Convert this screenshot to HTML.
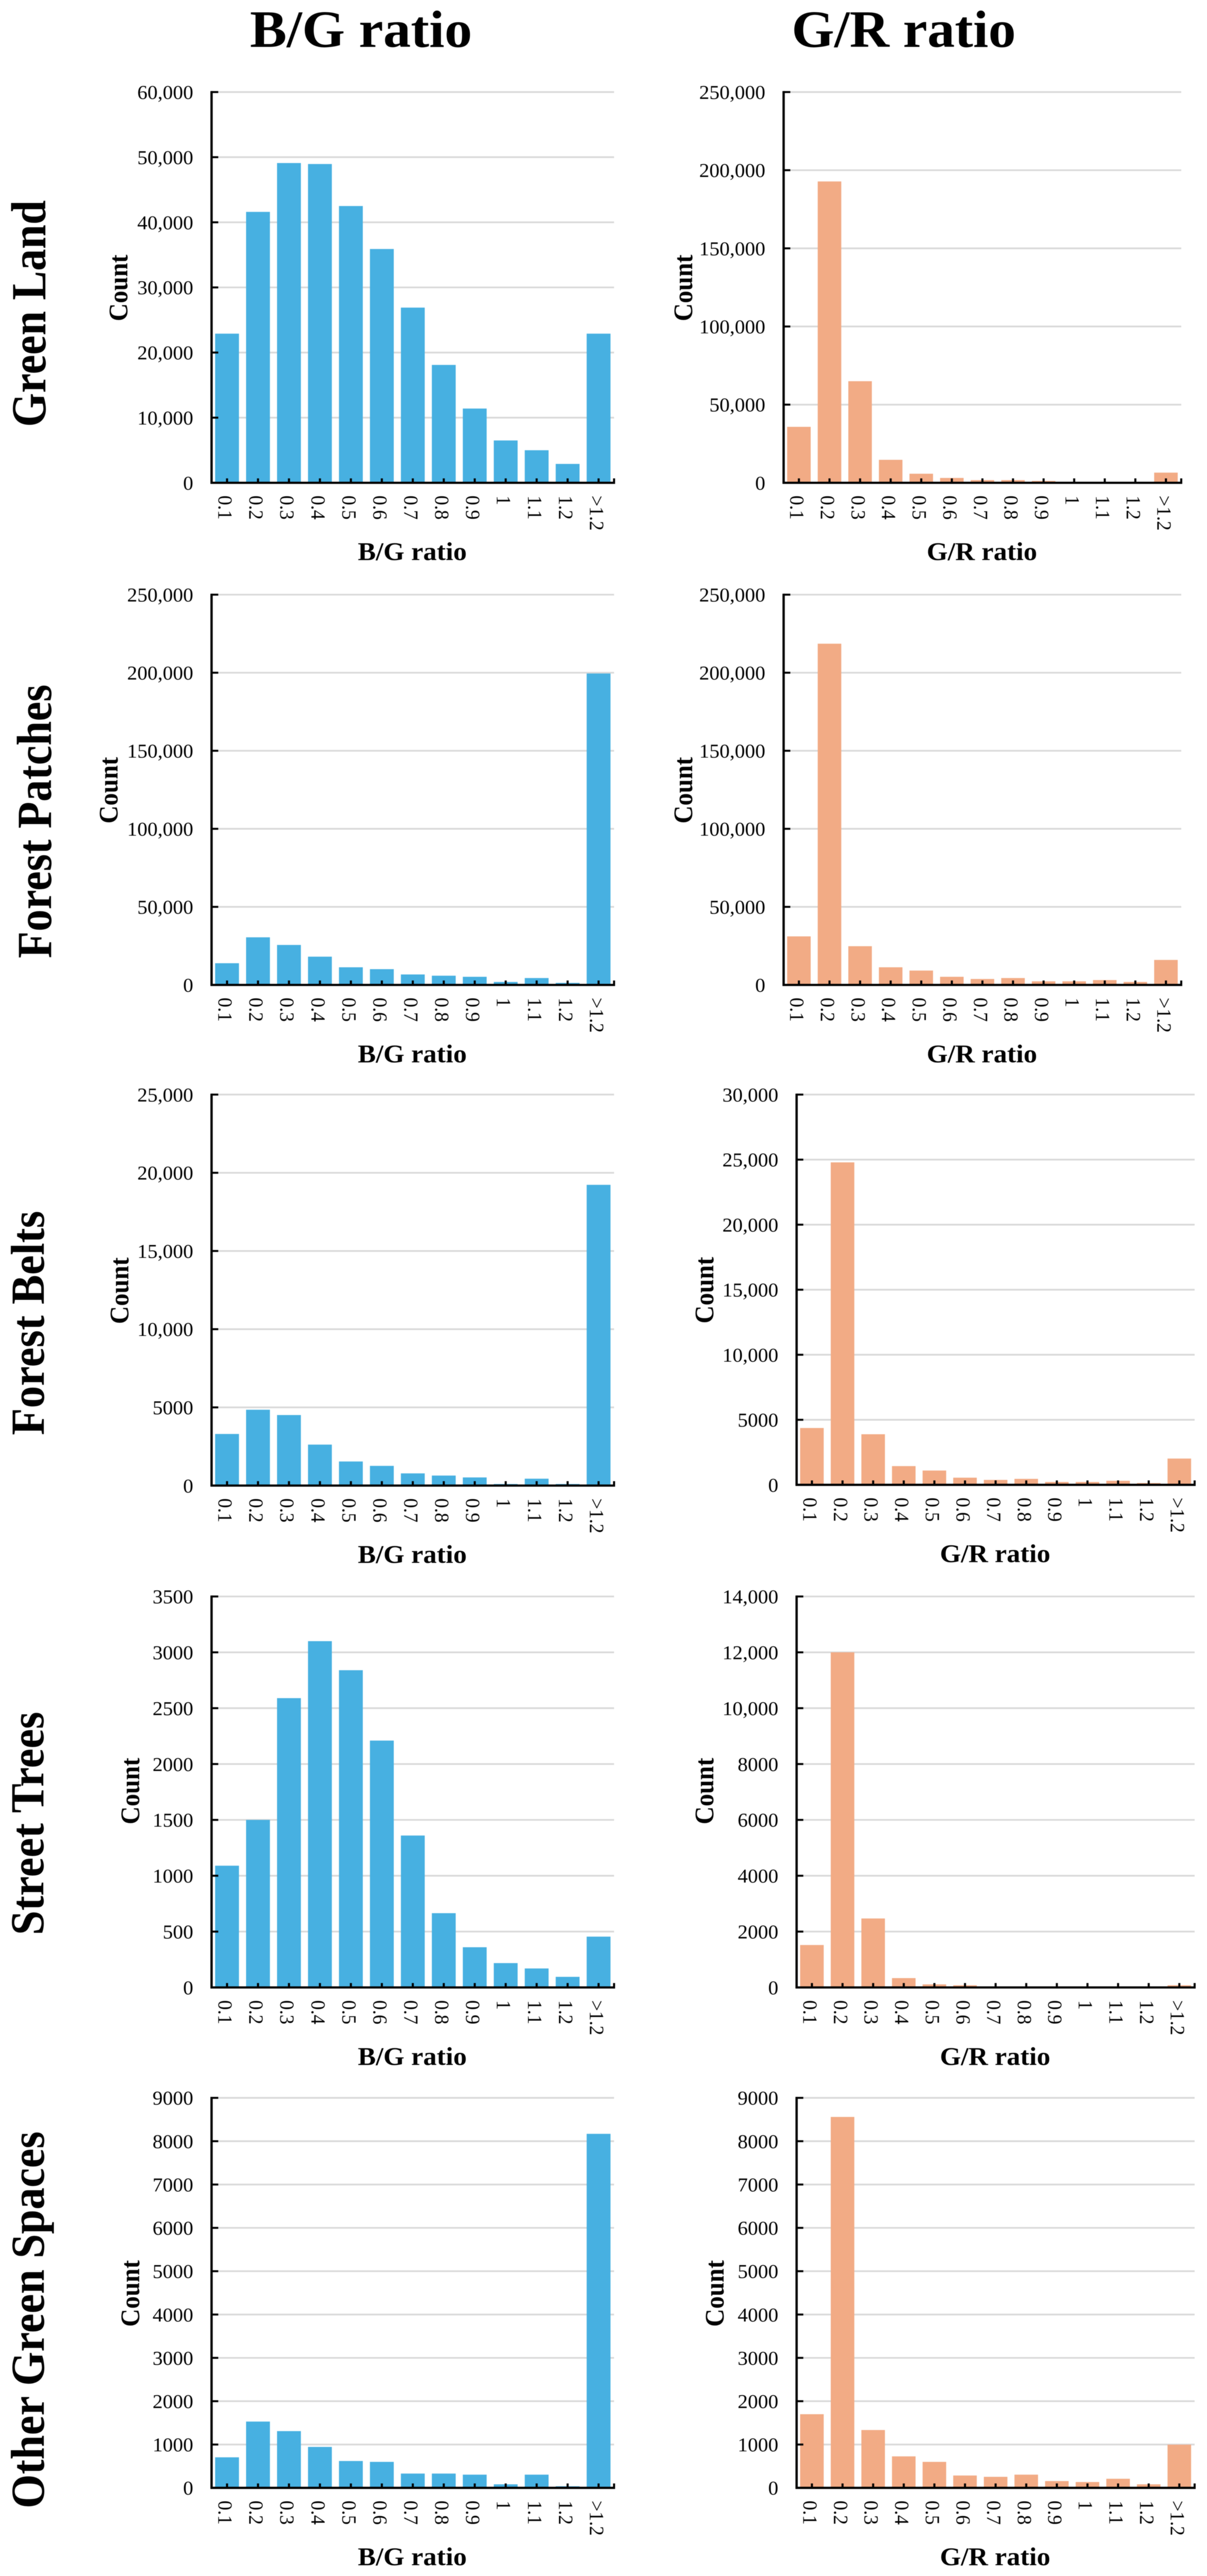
<!DOCTYPE html>
<html lang="en">
<head>
<meta charset="utf-8">
<title>B/G and G/R ratio histograms by green space type</title>
<style>
  html, body { margin: 0; padding: 0; background: #fff; width: 2342px; overflow: hidden; }
  svg { display: block; filter: blur(0.5px); }
  text { font-family: "Liberation Serif", "Times New Roman", serif; fill: #000; }
  .bold { font-weight: bold; }
</style>
</head>
<body>
<svg id="figure" xmlns="http://www.w3.org/2000/svg" width="2342" height="5261" viewBox="0 0 2342 5261" preserveAspectRatio="none">
  <rect x="0" y="0" width="2342" height="5261" fill="#fff"></rect>
  <text class="bold" x="485" y="96" font-size="107" textLength="431" lengthAdjust="spacingAndGlyphs">B/G ratio</text>
  <text class="bold" x="1536" y="96" font-size="107" textLength="435" lengthAdjust="spacingAndGlyphs">G/R ratio</text>
  <text class="bold" transform="translate(88,872) rotate(-90)" font-size="95" textLength="463" lengthAdjust="spacingAndGlyphs">Green Land</text>
  <text class="bold" transform="translate(99,1957) rotate(-90)" font-size="95" textLength="559" lengthAdjust="spacingAndGlyphs">Forest Patches</text>
  <text class="bold" transform="translate(85,2931) rotate(-90)" font-size="92" textLength="458" lengthAdjust="spacingAndGlyphs">Forest Belts</text>
  <text class="bold" transform="translate(84,3952) rotate(-90)" font-size="92" textLength="456" lengthAdjust="spacingAndGlyphs">Street Trees</text>
  <text class="bold" transform="translate(85,5123) rotate(-90)" font-size="92" textLength="770" lengthAdjust="spacingAndGlyphs">Other Green Spaces</text>
  <g id="charts"></g>
</svg>
<script>
const categories = ['0.1','0.2','0.3','0.4','0.5','0.6','0.7','0.8','0.9','1','1.1','1.2','>1.2'];

const greenLandBG = [22900,41600,49100,48950,42500,35900,26900,18100,11400,6500,5000,2900,22900];
const greenLandGR = [35800,192800,65000,14700,5800,3100,1700,1700,1200,200,150,100,6500];
const forestPatchesBG = [13900,30500,25600,18100,11300,10100,6700,5900,5200,1900,4400,1300,199500];
const forestPatchesGR = [31100,218600,24800,11300,9200,5200,3800,4400,2300,2300,3100,1900,16000];
const forestBeltsBG = [3300,4850,4510,2620,1540,1260,780,640,520,100,440,100,19230];
const forestBeltsGR = [4370,24790,3890,1440,1100,550,380,460,220,220,310,140,2020];
const streetTreesBG = [1090,1500,2590,3100,2840,2210,1360,665,360,218,170,95,455];
const streetTreesGR = [1520,12000,2470,335,110,78,20,20,15,10,10,10,78];
const otherSpacesBG = [705,1530,1310,945,620,600,330,330,305,82,305,37,8170];
const otherSpacesGR = [1700,8560,1335,727,600,285,255,305,157,135,210,82,997];

const ticks60k = ['0','10,000','20,000','30,000','40,000','50,000','60,000'];
const ticks250k = ['0','50,000','100,000','150,000','200,000','250,000'];
const ticks25k = ['0','5000','10,000','15,000','20,000','25,000'];
const ticks30k = ['0','5000','10,000','15,000','20,000','25,000','30,000'];
const ticks3500 = ['0','500','1000','1500','2000','2500','3000','3500'];
const ticks14k = ['0','2000','4000','6000','8000','10,000','12,000','14,000'];
const ticks9000 = ['0','1000','2000','3000','4000','5000','6000','7000','8000','9000'];

const BLUE = '#47B0E1';
const ORANGE = '#F2AB85';
const GRID = '#D9D9D9';
const BAR_FRACTION = 0.77;

function fitFrame() {
  const h = window.innerHeight;
  const frameH = (h >= 4500 && h < 5261) ? h : 5261;
  document.getElementById('figure').setAttribute('height', frameH);
  document.documentElement.style.height = frameH + 'px';
  document.body.style.height = frameH + 'px';
}
fitFrame();

function makeChart(p) {
  const NS = 'http://www.w3.org/2000/svg';
  const host = document.getElementById('charts');
  const group = document.createElementNS(NS, 'g');
  
  
  host.appendChild(group);

  const tickNums = p.ticks.map(function (t) { return Number(t.replace(',', '')); });
  const maxVal = tickNums[tickNums.length - 1];
  const yScale = function (v) { return p.base - (v / maxVal) * (p.base - p.top); };
  const band = (p.x1 - p.x0) / categories.length;
  const xScale = function (i) { return p.x0 + band * (i + 0.5); };

  function addLine(parent, x1, y1, x2, y2, color, width) {
    const l = document.createElementNS(NS, 'line');
    l.setAttribute('x1', x1);
    l.setAttribute('y1', y1);
    l.setAttribute('x2', x2);
    l.setAttribute('y2', y2);
    l.setAttribute('stroke', color);
    l.setAttribute('stroke-width', width);
    parent.appendChild(l);
    return l;
  }

  function addText(parent, str, attrs) {
    const t = document.createElementNS(NS, 'text');
    Object.keys(attrs).forEach(function (k) { t.setAttribute(k, attrs[k]); });
    t.textContent = str;
    parent.appendChild(t);
    return t;
  }

  p.ticks.forEach(function (label, i) {
    const y = yScale(tickNums[i]);
    if (i > 0) {
      const grid = addLine(group, p.x0, y, p.x1, y, GRID, 3.5);
      
      
    }
  });

  p.values.forEach(function (v, i) {
    const r = document.createElementNS(NS, 'rect');
    const w = band * BAR_FRACTION;
    const y = yScale(v);
    r.setAttribute('x', xScale(i) - w / 2);
    r.setAttribute('y', y);
    r.setAttribute('width', w);
    r.setAttribute('height', Math.max(0, p.base - y));
    r.setAttribute('fill', p.color);
    
    
    group.appendChild(r);
  });

  p.ticks.forEach(function (label, i) {
    const y = yScale(tickNums[i]);
    if (i > 0) {
      const tick = addLine(group, p.x0, y, p.x0 + 13, y, '#000', 4);
      
      
    }
    const lab = addText(group, label, {
      x: p.x0 - 35.5,
      y: y + 14,
      'font-size': 39.5,
      'text-anchor': 'end'
    });
    
    
  });

  categories.forEach(function (c, i) {
    const x = xScale(i);
    const tick = addLine(group, x, p.base, x, p.base - 9, '#000', 4);
    
    
    const lab = addText(group, c, {
      transform: 'translate(' + (x - 16.5) + ',' + (p.base + 26) + ') rotate(90)',
      'font-size': 39.5
    });
    
    
  });

  const endTick = addLine(group, p.x1, p.base + 2, p.x1, p.base - 9, '#000', 4);
  
  

  const yAxis = addLine(group, p.x0, p.top - 2, p.x0, p.base + 2, '#000', 4.5);
  
  

  const xAxis = addLine(group, p.x0 - 2, p.base, p.x1 + 2, p.base, '#000', 4.5);
  
  

  const yTitle = addText(group, 'Count', {
    transform: 'translate(' + p.countX + ',' + (p.countY + 68) + ') rotate(-90)',
    'font-size': 52,
    'font-weight': 'bold',
    textLength: 136,
    lengthAdjust: 'spacingAndGlyphs'
  });
  
  

  const xTitle = addText(group, p.xTitle, {
    x: (p.x0 + p.x1) / 2 + p.titleShift,
    y: p.base + 158,
    'font-size': 52.5,
    'font-weight': 'bold',
    'text-anchor': 'middle'
  });
  
  
}

const LEFT_X0 = 410.5, LEFT_X1 = 1191.5;
const RIGHT_TOP_X0 = 1520.5, RIGHT_TOP_X1 = 2292;
const RIGHT_LOW_X0 = 1545.7, RIGHT_LOW_X1 = 2318;

makeChart({ id: 'green-land-bg', values: greenLandBG, ticks: ticks60k, color: BLUE, xTitle: 'B/G ratio', x0: LEFT_X0, x1: LEFT_X1, top: 188, base: 986, countX: 247, countY: 588, titleShift: -1 });
makeChart({ id: 'green-land-gr', values: greenLandGR, ticks: ticks250k, color: ORANGE, xTitle: 'G/R ratio', x0: RIGHT_TOP_X0, x1: RIGHT_TOP_X1, top: 188, base: 986, countX: 1343, countY: 588, titleShift: -1 });
makeChart({ id: 'forest-patches-bg', values: forestPatchesBG, ticks: ticks250k, color: BLUE, xTitle: 'B/G ratio', x0: LEFT_X0, x1: LEFT_X1, top: 1214.5, base: 2011.5, countX: 228, countY: 1614, titleShift: -1 });
makeChart({ id: 'forest-patches-gr', values: forestPatchesGR, ticks: ticks250k, color: ORANGE, xTitle: 'G/R ratio', x0: RIGHT_TOP_X0, x1: RIGHT_TOP_X1, top: 1214.5, base: 2011.5, countX: 1343, countY: 1614, titleShift: -1 });
makeChart({ id: 'forest-belts-bg', values: forestBeltsBG, ticks: ticks25k, color: BLUE, xTitle: 'B/G ratio', x0: LEFT_X0, x1: LEFT_X1, top: 2235.5, base: 3034, countX: 249, countY: 2636, titleShift: -1 });
makeChart({ id: 'forest-belts-gr', values: forestBeltsGR, ticks: ticks30k, color: ORANGE, xTitle: 'G/R ratio', x0: RIGHT_LOW_X0, x1: RIGHT_LOW_X1, top: 2235.5, base: 3032.5, countX: 1384, countY: 2635, titleShift: -1 });
makeChart({ id: 'street-trees-bg', values: streetTreesBG, ticks: ticks3500, color: BLUE, xTitle: 'B/G ratio', x0: LEFT_X0, x1: LEFT_X1, top: 3260.5, base: 4059, countX: 270, countY: 3658, titleShift: -1 });
makeChart({ id: 'street-trees-gr', values: streetTreesGR, ticks: ticks14k, color: ORANGE, xTitle: 'G/R ratio', x0: RIGHT_LOW_X0, x1: RIGHT_LOW_X1, top: 3260.5, base: 4059, countX: 1384, countY: 3658, titleShift: -1 });
makeChart({ id: 'other-spaces-bg', values: otherSpacesBG, ticks: ticks9000, color: BLUE, xTitle: 'B/G ratio', x0: LEFT_X0, x1: LEFT_X1, top: 4284.5, base: 5081, countX: 270, countY: 4684, titleShift: -1 });
makeChart({ id: 'other-spaces-gr', values: otherSpacesGR, ticks: ticks9000, color: ORANGE, xTitle: 'G/R ratio', x0: RIGHT_LOW_X0, x1: RIGHT_LOW_X1, top: 4284.5, base: 5081, countX: 1404, countY: 4684, titleShift: -1 });
</script>
</body>
</html>
